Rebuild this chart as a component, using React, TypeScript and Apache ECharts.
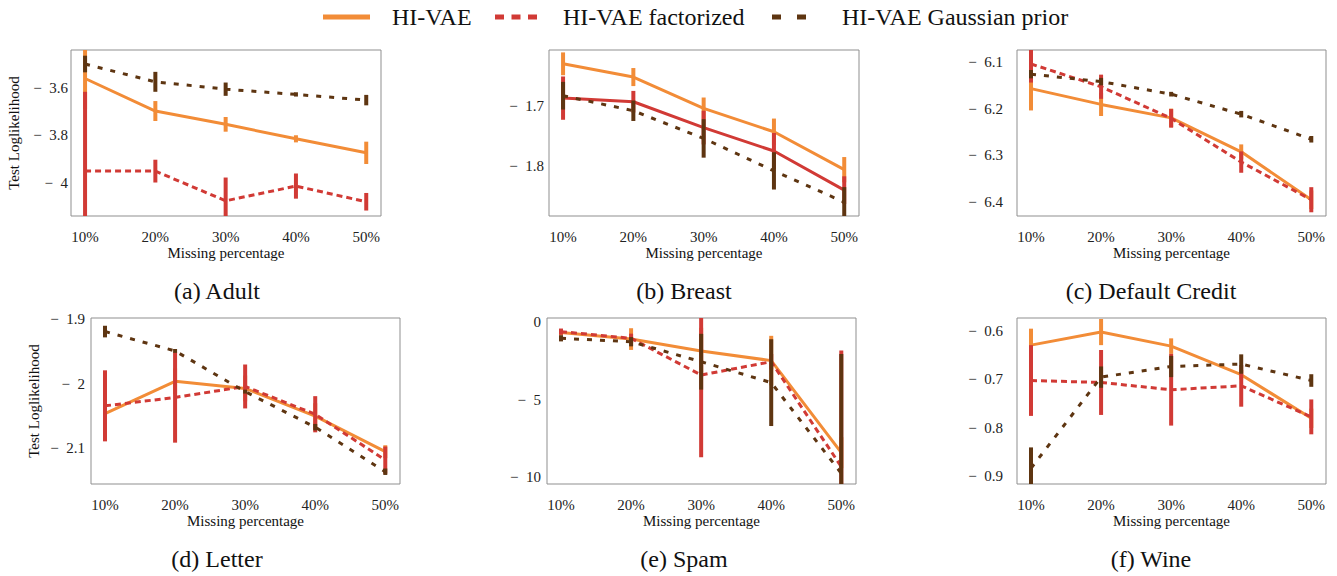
import React, { useEffect, useRef } from 'react';
import * as echarts from 'echarts';

const xValues = [10, 20, 30, 40, 50];
const seriesNames = ['HI-VAE', 'HI-VAE factorized', 'HI-VAE Gaussian prior'];
const captions = ['(a) Adult', '(b) Breast', '(c) Default Credit', '(d) Letter', '(e) Spam', '(f) Wine'];

// (a) Adult
const adultHivae = [-3.561, -3.698, -3.754, -3.815, -3.874];
const adultHivaeErr = [0.13, 0.042, 0.031, 0.015, 0.047];
const adultFact = [-3.951, -3.951, -4.076, -4.014, -4.08];
const adultFactErr = [0.334, 0.048, 0.098, 0.053, 0.037];
const adultGauss = [-3.5, -3.575, -3.606, -3.628, -3.652];
const adultGaussErr = [0.035, 0.042, 0.028, 0.009, 0.022];
const adultTicks = [-4, -3.8, -3.6];

// (b) Breast
const breastHivae = [-1.63, -1.652, -1.704, -1.743, -1.806];
const breastHivaeErr = [0.019, 0.015, 0.018, 0.022, 0.021];
const breastFact = [-1.687, -1.693, -1.736, -1.775, -1.84];
const breastFactErr = [0.036, 0.018, 0.028, 0.03, 0.023];
const breastGauss = [-1.683, -1.708, -1.754, -1.808, -1.86];
const breastGaussErr = [0.023, 0.017, 0.032, 0.031, 0.025];
const breastTicks = [-1.8, -1.7];

// (c) Default Credit
const creditHivae = [-6.157, -6.191, -6.22, -6.293, -6.396];
const creditHivaeErr = [0.047, 0.025, 0.02, 0.016, 0.02];
const creditFact = [-6.104, -6.153, -6.221, -6.315, -6.396];
const creditFactErr = [0.04, 0.026, 0.02, 0.023, 0.027];
const creditGauss = [-6.126, -6.142, -6.169, -6.212, -6.266];
const creditGaussErr = [0.009, 0.008, 0.005, 0.007, 0.007];
const creditTicks = [-6.4, -6.3, -6.2, -6.1];

// (d) Letter
const letterHivae = [-2.046, -1.996, -2.007, -2.05, -2.105];
const letterHivaeErr = [0.02, 0.02, 0.02, 0.02, 0.01];
const letterFact = [-2.034, -2.021, -2.004, -2.047, -2.118];
const letterFactErr = [0.055, 0.07, 0.034, 0.028, 0.021];
const letterGauss = [-1.919, -1.949, -2.012, -2.067, -2.136];
const letterGaussErr = [0.009, 0.003, 0.003, 0.005, 0.005];
const letterTicks = [-2.1, -2, -1.9];

// (e) Spam
const spamHivae = [-0.67, -1.1, -1.87, -2.49, -8.43];
const spamHivaeErr = [0.2, 0.7, 1.5, 1.6, 1.0];
const spamFact = [-0.62, -1.05, -3.42, -2.56, -9.33];
const spamFactErr = [0.2, 0.3, 5.3, 0.5, 7.5];
const spamGauss = [-1.05, -1.27, -2.56, -3.91, -9.76];
const spamGaussErr = [0.2, 0.3, 1.8, 2.8, 7.7];
const spamTicks = [-10, -5, 0];

// (f) Wine
const wineHivae = [-0.63, -0.603, -0.632, -0.691, -0.781];
const wineHivaeErr = [0.034, 0.027, 0.016, 0.01, 0.02];
const wineFact = [-0.703, -0.707, -0.722, -0.714, -0.778];
const wineFactErr = [0.073, 0.067, 0.074, 0.043, 0.036];
const wineGauss = [-0.884, -0.696, -0.674, -0.669, -0.703];
const wineGaussErr = [0.043, 0.022, 0.022, 0.02, 0.013];
const wineTicks = [-0.9, -0.8, -0.7, -0.6];

const COLORS = ['#F28C37', '#D13A35', '#5E3511'];
const FONT = 'Liberation Serif';

const panelData = [
  { vals: [adultHivae, adultFact, adultGauss], errs: [adultHivaeErr, adultFactErr, adultGaussErr], ticks: adultTicks },
  { vals: [breastHivae, breastFact, breastGauss], errs: [breastHivaeErr, breastFactErr, breastGaussErr], ticks: breastTicks },
  { vals: [creditHivae, creditFact, creditGauss], errs: [creditHivaeErr, creditFactErr, creditGaussErr], ticks: creditTicks },
  { vals: [letterHivae, letterFact, letterGauss], errs: [letterHivaeErr, letterFactErr, letterGaussErr], ticks: letterTicks },
  { vals: [spamHivae, spamFact, spamGauss], errs: [spamHivaeErr, spamFactErr, spamGaussErr], ticks: spamTicks },
  { vals: [wineHivae, wineFact, wineGauss], errs: [wineHivaeErr, wineFactErr, wineGaussErr], ticks: wineTicks },
];

// layout (pixels) and axis ranges
const panelLayout = [
  { left: 71, top: 50, width: 310, height: 166, ymin: -4.14, ymax: -3.441, lm: 3, yname: true, factSolid: false },
  { left: 549, top: 50, width: 310, height: 166, ymin: -1.883, ymax: -1.607, lm: 5, yname: false, factSolid: true },
  { left: 1017, top: 50, width: 309, height: 166, ymin: -6.431, ymax: -6.074, lm: 14, yname: false, factSolid: false },
  { left: 91, top: 318, width: 309, height: 166, ymin: -2.155, ymax: -1.898, lm: 6, yname: true, factSolid: false },
  { left: 547, top: 318, width: 309, height: 166, ymin: -10.45, ymax: 0.26, lm: 6, yname: false, factSolid: false },
  { left: 1017, top: 318, width: 309, height: 166, ymin: -0.9165, ymax: -0.574, lm: 14, yname: false, factSolid: false },
];
const captionPos = [
  [217, 291], [684, 291], [1151, 291], [217, 559], [684, 559], [1151, 559],
];

function fmtY(v: number) {
  const r = Math.round(v * 1000) / 1000;
  if (r === 0) return '0';
  return (r < 0 ? '\u2212\u2002' : '') + String(Math.abs(r));
}

function buildOption() {
  const grid: any[] = [];
  const xAxis: any[] = [];
  const yAxis: any[] = [];
  const series: any[] = [];
  panelLayout.forEach((p, i) => {
    grid.push({
      left: p.left, top: p.top, width: p.width, height: p.height,
      show: true, borderColor: '#8f8f8f', borderWidth: 1, backgroundColor: 'transparent',
    });
    xAxis.push({
      type: 'value', gridIndex: i, min: 8, max: 52.1,
      axisLine: { show: false }, axisTick: { show: false }, splitLine: { show: false },
      axisLabel: {
        customValues: xValues, formatter: (v: number) => v + '%', margin: 13,
        fontFamily: FONT, fontSize: 15, color: '#222',
      },
      name: 'Missing percentage', nameLocation: 'middle', nameGap: 29,
      nameTextStyle: { fontFamily: FONT, fontSize: 15, color: '#111' },
    });
    yAxis.push({
      type: 'value', gridIndex: i, min: p.ymin, max: p.ymax,
      axisLine: { show: false }, axisTick: { show: false }, splitLine: { show: false },
      axisLabel: {
        customValues: panelData[i].ticks, formatter: fmtY, margin: p.lm,
        fontFamily: FONT, fontSize: 15, color: '#222',
      },
      name: p.yname ? 'Test Loglikelihood' : '', nameLocation: 'middle', nameGap: 50,
      nameTextStyle: { fontFamily: FONT, fontSize: 15, color: '#111' },
    });
    const d = panelData[i];
    for (let s = 0; s < 3; s++) {
      const color = COLORS[s];
      let type: any = 'solid';
      if (s === 1 && !p.factSolid) type = [6, 4];
      if (s === 2) type = [5, 8];
      series.push({
        type: 'line', name: seriesNames[s], xAxisIndex: i, yAxisIndex: i,
        data: xValues.map((x, k) => [x, d.vals[s][k]]),
        symbol: 'none', clip: true, z: 2 + s * 2,
        lineStyle: { color, width: 3, type },
      });
      series.push({
        type: 'custom', name: seriesNames[s] + ' err', xAxisIndex: i, yAxisIndex: i,
        data: xValues.map((x, k) => [x, d.vals[s][k], d.errs[s][k]]),
        clip: true, z: 3 + s * 2,
        renderItem: (params: any, api: any) => {
          const x = api.value(0), y = api.value(1), e = api.value(2);
          const p1 = api.coord([x, y + e]);
          const p2 = api.coord([x, y - e]);
          const cs = params.coordSys;
          const top = Math.max(p1[1], cs.y);
          const bot = Math.min(p2[1], cs.y + cs.height);
          if (bot <= top) return null;
          return {
            type: 'line',
            shape: { x1: p1[0], y1: top, x2: p1[0], y2: bot },
            style: { stroke: color, lineWidth: 4 },
          };
        },
      });
    }
  });

  const LF = 24;
  const graphic: any[] = [
    { type: 'line', shape: { x1: 323, y1: 17, x2: 370, y2: 17 }, style: { stroke: COLORS[0], lineWidth: 5 } },
    { type: 'text', x: 392, y: 17, style: { text: seriesNames[0], fontFamily: FONT, fontSize: LF, fill: '#111', verticalAlign: 'middle' } },
    { type: 'line', shape: { x1: 495, y1: 17, x2: 537, y2: 17 }, style: { stroke: COLORS[1], lineWidth: 5, lineDash: [9, 7.5] } },
    { type: 'text', x: 563, y: 17, style: { text: seriesNames[1], fontFamily: FONT, fontSize: LF, fill: '#111', verticalAlign: 'middle' } },
    { type: 'line', shape: { x1: 772, y1: 17, x2: 807, y2: 17 }, style: { stroke: COLORS[2], lineWidth: 5, lineDash: [9, 16] } },
    { type: 'text', x: 842, y: 17, style: { text: seriesNames[2], fontFamily: FONT, fontSize: LF, fill: '#111', verticalAlign: 'middle' } },
  ];
  captions.forEach((c, i) => {
    graphic.push({
      type: 'text', x: captionPos[i][0], y: captionPos[i][1],
      style: { text: c, fontFamily: FONT, fontSize: 24, fill: '#111', align: 'center', verticalAlign: 'middle' },
    });
  });

  return {
    animation: false,
    backgroundColor: '#ffffff',
    grid, xAxis, yAxis, series, graphic,
  };
}

export default function App() {
  const ref = useRef<HTMLDivElement>(null);
  useEffect(() => {
    if (!ref.current) return;
    const chart = echarts.init(ref.current, undefined, { renderer: 'svg' });
    chart.setOption(buildOption() as any);
    return () => chart.dispose();
  }, []);
  return (
    <div
      ref={ref}
      style={{ position: 'absolute', left: 0, top: 0, width: 1337, height: 576, background: '#fff' }}
    />
  );
}
